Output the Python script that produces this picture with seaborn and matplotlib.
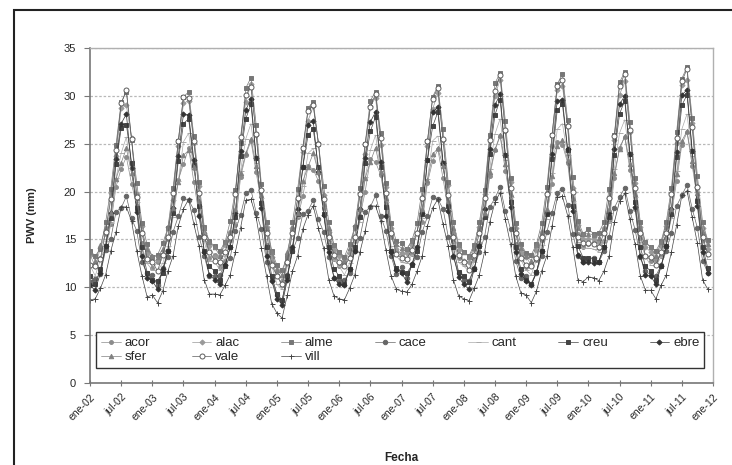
import numpy as np
import pandas as pd
import matplotlib
matplotlib.use('Agg')
import matplotlib.pyplot as plt
import seaborn as sns
from matplotlib.patches import Rectangle

# PWV mensual (mm), ene-2002 .. dic-2011, una fila por año
stations = ['acor', 'alac', 'alme', 'cace', 'cant', 'creu', 'ebre', 'sfer', 'vale', 'vill']

acor = [12.3, 12.4, 13.1, 14.0, 16.6, 20.5, 22.4, 23.6, 20.8, 18.5, 14.6, 13.6,
        12.0, 12.6, 13.4, 15.1, 17.8, 21.2, 22.9, 24.5, 21.0, 17.6, 15.4, 13.1,
        13.4, 12.1, 12.8, 14.9, 16.5, 21.5, 23.8, 25.3, 22.0, 18.9, 14.4, 12.7,
        11.3, 10.2, 12.4, 14.1, 17.3, 19.5, 22.7, 22.3, 21.1, 18.3, 14.7, 13.0,
        12.2, 12.5, 13.2, 14.8, 17.4, 20.0, 23.4, 23.1, 21.7, 18.6, 15.3, 13.8,
        13.6, 13.0, 13.5, 14.2, 16.8, 20.9, 23.2, 24.4, 21.4, 18.0, 14.8, 13.1,
        12.7, 11.8, 13.0, 14.6, 17.5, 21.6, 24.3, 25.8, 22.2, 19.0, 14.5, 13.4,
        12.1, 12.3, 12.9, 14.9, 17.7, 20.8, 25.2, 24.9, 23.0, 18.4, 15.6, 14.2,
        14.5, 14.7, 14.1, 14.8, 16.9, 21.4, 24.6, 25.7, 22.3, 18.2, 15.2, 13.3,
        12.8, 12.9, 13.3, 15.2, 17.6, 21.1, 24.9, 26.2, 22.7, 19.2, 14.9, 13.5]

alac = [13.4, 12.2, 14.1, 15.6, 19.9, 23.7, 28.7, 29.0, 25.6, 19.7, 16.4, 13.5,
        12.7, 12.9, 13.5, 16.3, 19.1, 24.8, 29.2, 29.5, 25.1, 20.6, 15.7, 14.3,
        13.2, 13.3, 14.4, 15.8, 19.8, 25.3, 29.4, 31.2, 25.9, 20.2, 16.3, 13.2,
        11.8, 10.7, 12.6, 16.2, 19.2, 24.1, 27.4, 28.9, 25.1, 19.6, 15.8, 13.9,
        13.3, 12.8, 13.6, 16.4, 19.8, 23.9, 28.9, 29.8, 24.9, 20.5, 16.2, 14.0,
        13.5, 13.6, 14.4, 15.7, 19.2, 24.8, 28.6, 30.3, 25.4, 20.7, 15.7, 13.9,
        12.8, 12.7, 14.0, 16.3, 19.7, 25.5, 30.0, 31.7, 26.3, 21.0, 16.2, 13.6,
        13.2, 12.3, 13.9, 15.8, 19.9, 24.8, 30.6, 31.0, 26.9, 20.4, 16.5, 15.1,
        15.0, 15.1, 14.7, 16.2, 19.3, 25.4, 30.1, 31.5, 26.2, 20.9, 16.3, 14.2,
        13.7, 13.2, 14.3, 16.4, 19.8, 25.1, 31.1, 31.6, 27.2, 20.5, 16.2, 14.0]

alme = [13.8, 13.3, 14.0, 16.8, 20.3, 24.9, 29.3, 30.4, 25.4, 20.9, 16.7, 14.5,
        13.2, 13.4, 14.6, 16.2, 20.4, 25.3, 29.9, 30.4, 25.8, 21.0, 16.3, 14.8,
        14.3, 13.8, 14.7, 16.9, 20.2, 25.1, 30.8, 31.9, 27.0, 20.8, 16.8, 13.8,
        12.3, 11.8, 13.2, 16.8, 20.3, 24.6, 28.7, 29.4, 25.0, 20.6, 16.8, 14.4,
        13.7, 13.2, 14.5, 16.3, 20.4, 25.0, 29.5, 30.4, 26.1, 20.9, 16.7, 14.8,
        14.6, 14.0, 14.9, 16.7, 20.3, 25.3, 29.9, 31.0, 26.5, 21.0, 16.8, 14.5,
        13.7, 13.3, 14.4, 16.8, 20.2, 25.9, 31.3, 32.4, 27.4, 21.4, 16.7, 14.5,
        13.6, 13.4, 14.5, 16.7, 20.5, 25.9, 31.2, 32.3, 27.5, 21.5, 16.9, 15.6,
        16.1, 15.6, 15.7, 16.8, 20.3, 25.9, 31.4, 32.5, 27.3, 21.4, 16.8, 14.7,
        14.2, 13.8, 14.8, 16.8, 20.4, 26.2, 31.8, 33.0, 27.7, 21.6, 16.8, 14.9]

cace = [10.6, 10.9, 11.4, 13.9, 15.1, 17.9, 18.3, 19.5, 17.2, 15.9, 12.6, 11.5,
        11.3, 10.2, 12.0, 13.2, 15.8, 17.4, 19.3, 19.1, 18.1, 15.3, 13.3, 11.2,
        11.2, 11.3, 12.3, 13.1, 15.9, 17.6, 19.8, 20.2, 17.8, 16.1, 12.7, 10.8,
        9.2, 8.6, 11.3, 13.8, 15.2, 17.7, 18.0, 19.1, 17.1, 15.8, 13.2, 11.0,
        10.7, 10.8, 11.5, 13.8, 15.2, 17.9, 18.4, 19.6, 17.4, 15.9, 13.3, 11.4,
        12.1, 11.0, 12.4, 13.2, 15.8, 17.4, 19.4, 19.2, 18.2, 15.3, 13.2, 11.5,
        10.8, 10.7, 12.0, 13.7, 15.3, 18.4, 19.3, 20.5, 18.0, 16.1, 12.8, 11.0,
        11.2, 10.3, 11.5, 13.3, 15.8, 17.8, 19.9, 20.3, 18.6, 15.6, 13.3, 12.6,
        13.0, 13.1, 12.6, 13.8, 15.3, 18.3, 19.4, 20.4, 18.0, 16.0, 13.2, 11.7,
        11.3, 11.2, 12.3, 13.8, 15.7, 18.5, 19.6, 20.7, 18.2, 16.2, 12.8, 11.5]

cant = [12.3, 11.2, 12.9, 14.8, 16.7, 21.4, 24.0, 25.7, 21.9, 18.9, 14.3, 12.5,
        11.8, 11.8, 12.5, 14.3, 17.3, 21.1, 25.2, 26.1, 22.3, 18.5, 14.8, 12.8,
        12.7, 11.8, 13.3, 14.7, 16.8, 22.2, 25.5, 27.1, 23.0, 19.3, 14.2, 12.3,
        10.3, 9.8, 12.2, 14.2, 17.3, 20.6, 24.0, 24.5, 22.1, 18.1, 14.7, 12.9,
        12.2, 11.3, 12.5, 14.8, 16.8, 21.5, 24.3, 25.9, 22.1, 18.9, 14.3, 13.3,
        12.6, 12.5, 13.4, 14.3, 17.2, 21.3, 25.3, 25.8, 22.9, 18.6, 14.7, 12.6,
        12.2, 11.7, 12.6, 14.7, 17.3, 22.4, 26.0, 27.6, 23.3, 19.4, 14.3, 12.9,
        11.8, 11.3, 12.9, 14.4, 17.1, 21.9, 26.5, 27.1, 23.8, 19.0, 14.7, 14.1,
        14.1, 14.0, 13.7, 14.8, 16.8, 22.4, 26.1, 27.5, 23.4, 19.4, 14.7, 13.2,
        12.3, 12.2, 13.2, 14.8, 17.2, 22.1, 26.5, 28.1, 23.7, 19.6, 14.3, 13.0]

creu = [11.2, 10.3, 11.9, 14.3, 17.2, 22.9, 26.6, 27.0, 23.0, 18.3, 14.2, 11.5,
        10.8, 10.7, 11.5, 13.8, 17.8, 23.2, 27.1, 27.6, 22.8, 18.5, 13.8, 12.2,
        11.7, 10.8, 12.2, 14.2, 17.3, 23.7, 27.6, 29.1, 23.5, 18.8, 14.2, 11.2,
        9.3, 8.7, 11.2, 13.8, 17.7, 22.6, 25.9, 26.5, 22.6, 17.7, 14.2, 11.9,
        11.2, 10.3, 11.9, 14.2, 17.3, 23.0, 26.3, 27.8, 22.6, 18.4, 13.8, 12.0,
        11.6, 11.5, 12.3, 13.8, 17.7, 23.3, 26.8, 28.3, 23.0, 18.5, 14.2, 11.6,
        11.2, 10.6, 11.9, 14.3, 17.3, 23.9, 28.0, 29.6, 23.8, 18.9, 14.2, 11.9,
        10.8, 10.4, 11.6, 13.8, 17.7, 23.4, 28.5, 29.1, 24.3, 18.5, 14.3, 13.1,
        13.1, 13.0, 12.7, 14.2, 17.3, 23.8, 28.1, 29.5, 23.9, 18.9, 14.2, 12.2,
        11.7, 10.8, 12.2, 14.3, 17.7, 23.6, 29.0, 30.1, 24.2, 19.0, 14.2, 12.0]

ebre = [10.2, 9.7, 11.5, 14.3, 17.8, 23.4, 27.1, 28.1, 22.5, 17.9, 13.3, 11.0,
        10.7, 9.8, 11.9, 13.8, 18.3, 23.7, 28.1, 28.0, 23.3, 17.5, 13.7, 11.3,
        10.8, 10.3, 12.3, 14.2, 17.8, 24.2, 28.5, 29.7, 23.5, 18.3, 13.3, 10.7,
        8.8, 8.2, 10.8, 14.2, 18.2, 22.6, 27.0, 27.4, 22.0, 17.6, 13.7, 11.0,
        10.3, 10.2, 11.9, 13.8, 18.2, 23.5, 27.3, 28.3, 23.1, 17.4, 13.7, 11.8,
        11.5, 10.6, 12.4, 14.2, 17.8, 23.3, 28.3, 28.8, 23.0, 18.0, 13.3, 11.1,
        10.3, 9.8, 11.9, 14.3, 18.2, 24.4, 29.0, 30.2, 23.8, 18.4, 13.7, 11.4,
        10.7, 10.2, 11.6, 13.8, 17.8, 23.9, 29.5, 29.6, 24.4, 18.0, 13.4, 12.6,
        12.6, 12.5, 12.7, 14.2, 17.8, 24.4, 29.1, 30.0, 23.9, 18.4, 13.3, 11.3,
        11.2, 10.3, 12.2, 14.3, 18.2, 24.1, 30.1, 30.6, 24.2, 18.5, 13.7, 11.5]

sfer = [13.7, 12.8, 14.4, 16.3, 17.8, 21.3, 23.0, 24.5, 21.9, 19.3, 15.8, 14.0,
        13.3, 13.2, 14.0, 16.2, 18.3, 21.0, 23.8, 24.3, 22.6, 19.0, 16.2, 14.7,
        14.2, 13.3, 14.7, 15.8, 18.2, 21.9, 24.0, 25.5, 22.7, 19.6, 16.2, 13.7,
        11.8, 11.3, 13.7, 16.2, 17.8, 21.1, 22.6, 24.0, 22.0, 18.7, 16.2, 14.4,
        13.7, 12.8, 14.1, 16.2, 18.2, 21.4, 23.1, 24.6, 22.0, 19.3, 15.8, 14.5,
        14.1, 14.0, 14.8, 15.8, 18.2, 21.2, 23.9, 24.5, 22.7, 19.0, 16.2, 14.4,
        13.7, 13.2, 14.1, 16.2, 17.8, 22.0, 24.4, 25.9, 22.9, 19.7, 15.8, 14.1,
        13.3, 12.8, 14.4, 15.8, 18.2, 21.6, 24.8, 25.4, 23.3, 19.3, 16.2, 15.6,
        15.6, 15.5, 15.2, 16.2, 18.2, 21.9, 24.4, 25.8, 22.9, 19.7, 16.2, 14.7,
        14.2, 13.3, 14.7, 16.3, 18.2, 21.8, 25.3, 26.3, 23.2, 19.8, 15.8, 14.5]

vale = [12.3, 12.2, 13.0, 15.8, 19.2, 24.3, 29.2, 30.6, 25.5, 19.4, 15.7, 13.0,
        12.7, 11.7, 13.4, 15.3, 19.8, 25.3, 29.9, 29.8, 25.3, 19.9, 15.3, 13.7,
        12.8, 12.7, 13.7, 15.3, 19.7, 25.7, 30.1, 30.9, 26.0, 20.2, 15.7, 12.3,
        11.2, 10.3, 12.7, 15.7, 19.3, 24.6, 28.4, 29.0, 25.0, 19.2, 15.3, 13.4,
        12.7, 12.2, 13.1, 15.3, 19.7, 25.0, 28.8, 30.2, 25.6, 19.9, 15.7, 13.5,
        13.1, 13.0, 13.9, 15.7, 19.3, 25.3, 29.7, 30.8, 25.5, 19.6, 15.3, 13.4,
        12.7, 11.8, 13.4, 15.7, 19.3, 25.4, 30.5, 32.2, 26.4, 20.4, 15.7, 13.1,
        12.3, 12.2, 13.1, 15.3, 19.7, 25.9, 31.0, 31.6, 26.8, 20.0, 15.3, 14.6,
        14.6, 14.5, 14.2, 15.7, 19.3, 25.8, 31.0, 32.3, 26.4, 20.4, 15.7, 13.3,
        13.2, 12.3, 13.7, 15.7, 19.7, 25.6, 31.5, 32.8, 26.7, 20.5, 15.3, 13.5]

vill = [8.7, 8.8, 9.9, 11.3, 13.8, 15.8, 18.4, 18.4, 16.9, 13.8, 11.2, 9.0,
        9.2, 8.4, 9.6, 11.7, 13.3, 16.4, 18.2, 19.2, 16.6, 14.3, 10.8, 9.3,
        9.3, 9.2, 10.2, 11.3, 13.7, 16.2, 19.1, 19.2, 17.3, 14.1, 11.2, 8.3,
        7.3, 6.8, 9.2, 11.7, 13.3, 16.1, 17.6, 18.5, 16.2, 14.1, 10.8, 9.1,
        8.8, 8.7, 9.9, 11.3, 13.7, 15.9, 18.5, 18.5, 16.9, 13.9, 11.2, 9.8,
        9.6, 9.5, 10.3, 11.7, 13.3, 16.4, 18.3, 19.2, 16.6, 14.3, 10.8, 9.1,
        8.8, 8.6, 9.9, 11.3, 13.7, 16.8, 18.9, 19.9, 17.1, 14.5, 11.2, 9.4,
        9.2, 8.4, 9.6, 11.7, 13.3, 16.4, 19.4, 19.5, 17.5, 14.2, 10.8, 10.6,
        11.1, 11.0, 10.7, 11.7, 13.3, 16.8, 19.0, 19.8, 17.1, 14.5, 11.2, 9.7,
        9.7, 8.8, 10.2, 11.3, 13.7, 16.5, 19.6, 20.1, 17.3, 14.6, 10.8, 9.8]

tick_labels = ['ene-02', 'jul-02', 'ene-03', 'jul-03', 'ene-04', 'jul-04',
               'ene-05', 'jul-05', 'ene-06', 'jul-06', 'ene-07', 'jul-07',
               'ene-08', 'jul-08', 'ene-09', 'jul-09', 'ene-10', 'jul-10',
               'ene-11', 'jul-11', 'ene-12']

series = dict(zip(stations, [acor, alac, alme, cace, cant, creu, ebre, sfer, vale, vill]))

# marker, line/edge colour, face colour, size
styles = {
    'acor': ('o', '#8c8c8c', '#8c8c8c', 2.8),
    'alac': ('D', '#999999', '#999999', 2.6),
    'alme': ('s', '#777777', '#777777', 2.4),
    'cace': ('o', '#666666', '#666666', 3.2),
    'cant': ('_', '#aaaaaa', '#aaaaaa', 3.6),
    'creu': ('s', '#444444', '#444444', 3.0),
    'ebre': ('D', '#333333', '#333333', 2.6),
    'sfer': ('^', '#808080', '#808080', 3.2),
    'vale': ('o', '#5c5c5c', 'white', 3.6),
    'vill': ('+', '#444444', '#444444', 3.6),
}

sns.set_style('white')
plt.rcParams['font.family'] = ['Liberation Sans', 'DejaVu Sans']

df = pd.DataFrame(series)
df['mes'] = np.arange(len(acor))
long_df = df.melt(id_vars='mes', var_name='estacion', value_name='pwv')

fig = plt.figure(figsize=(7.32, 4.65), dpi=100)
ax = fig.add_axes([0.123, 0.176, 0.851, 0.721])

for name in stations:
    mk, col, face, size = styles[name]
    sub = long_df[long_df['estacion'] == name]
    sns.lineplot(data=sub, x='mes', y='pwv', ax=ax, label=name, color=col,
                 marker=mk, markersize=size, markerfacecolor=face,
                 markeredgecolor=col, markeredgewidth=0.7, linewidth=0.5)

ax.set_xlim(0, 120)
ax.set_ylim(0, 35)
ax.set_yticks(range(0, 36, 5))
ax.set_xticks(range(0, 121, 6))
ax.set_xticks(range(0, 121), minor=True)
ax.set_xticklabels(tick_labels, rotation=45, ha='right', rotation_mode='anchor')
ax.tick_params(axis='x', which='major', direction='inout', length=5, width=0.8,
               color='#777777', labelsize=7.5, pad=4)
ax.tick_params(axis='x', which='minor', direction='inout', length=3, width=0.6,
               color='#888888')
ax.tick_params(axis='y', which='major', direction='out', length=4, width=0.8,
               color='#777777', labelsize=8, pad=6)
ax.tick_params(left=True, bottom=True)

ax.yaxis.grid(True, color='#b8b8b8', linestyle=(0, (2, 1.5)), linewidth=0.9)
ax.xaxis.grid(False)
ax.set_axisbelow(True)
for side in ['top', 'right']:
    ax.spines[side].set_color('#b0b0b0')
    ax.spines[side].set_linewidth(1.0)
for side in ['left', 'bottom']:
    ax.spines[side].set_color('#777777')
    ax.spines[side].set_linewidth(1.2)

ax.set_ylabel('PWV (mm)', fontweight='bold', fontsize=8)
ax.yaxis.set_label_coords(-0.085, 0.5)
ax.set_xlabel('Fecha', fontweight='bold', fontsize=8.5)
ax.xaxis.set_label_coords(0.5, -0.205)

# legend rows: acor..ebre on top, sfer vale vill below
handles, labels = ax.get_legend_handles_labels()
order = ['acor', 'sfer', 'alac', 'vale', 'alme', 'vill', 'cace', 'cant', 'creu', 'ebre']
hmap = dict(zip(labels, handles))
leg = ax.legend([hmap[k] for k in order], order, ncol=7, loc='lower left',
                bbox_to_anchor=(0.01, 0.045, 0.976, 0.137), mode='expand',
                fontsize=9.5, handlelength=1.5, handletextpad=0.3,
                borderaxespad=0, frameon=True, fancybox=False, framealpha=1,
                edgecolor='#333333', labelspacing=0.15, borderpad=0.35)
leg.get_frame().set_linewidth(1.0)

# outer frame of the figure
fig.patches.append(Rectangle((14 / 732, -0.1), 1.0, 1 - 10 / 465 + 0.1,
                             transform=fig.transFigure, fill=False,
                             edgecolor='#222222', linewidth=1.5))

fig.savefig('out.png', dpi=100)
